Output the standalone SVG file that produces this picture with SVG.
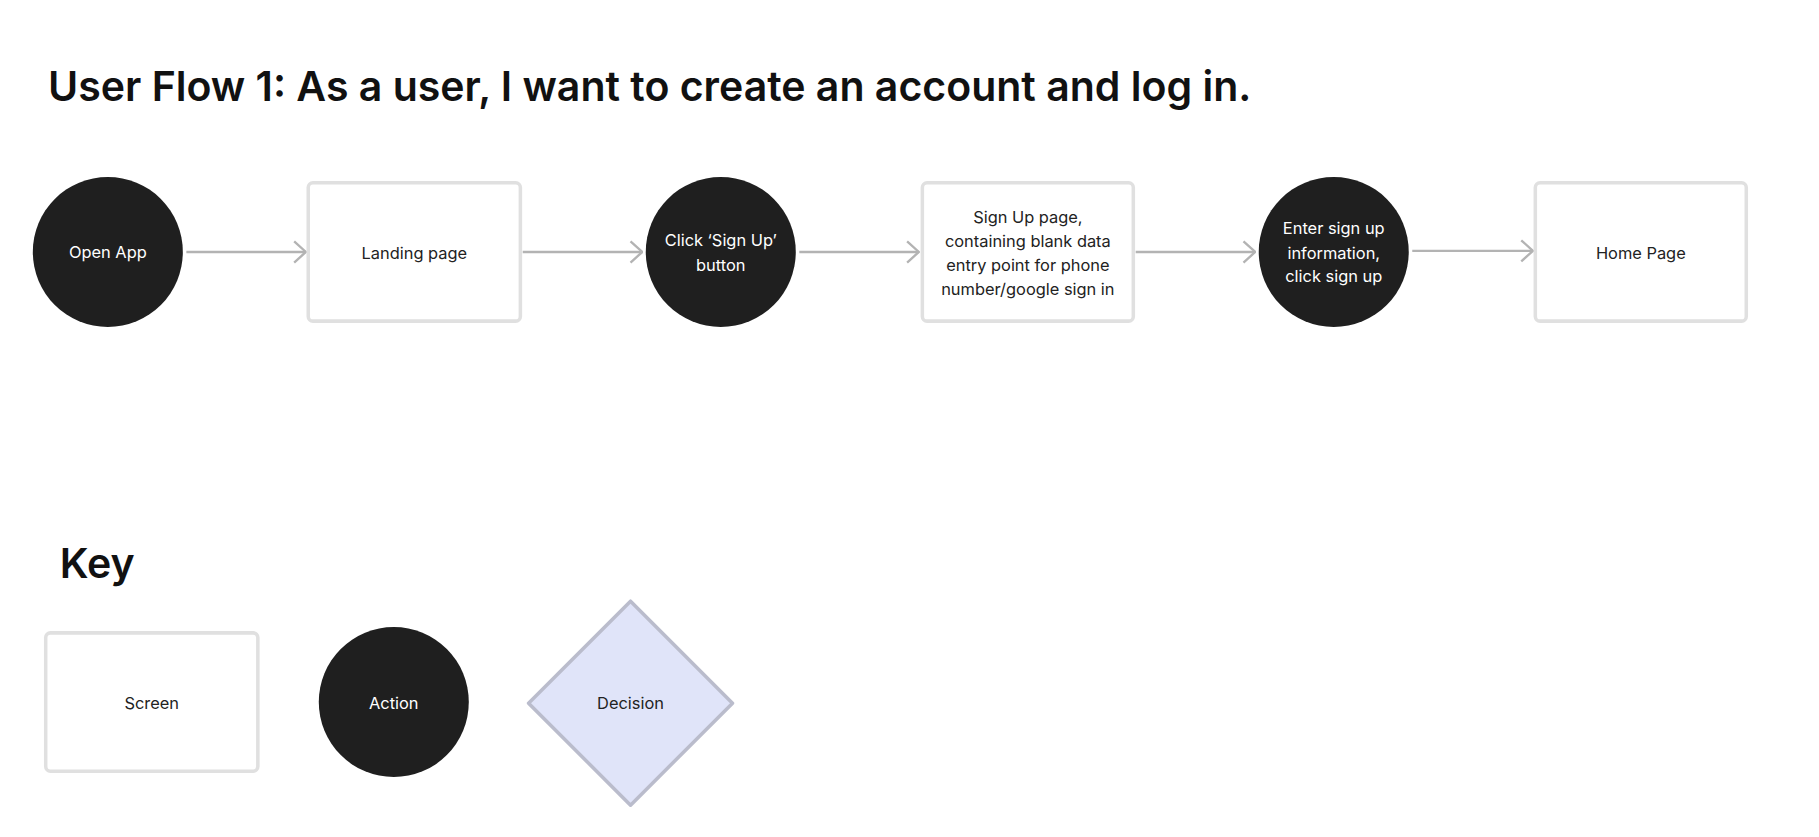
<svg xmlns="http://www.w3.org/2000/svg" width="1819" height="837" viewBox="0 0 1819 837">
<defs>
<style>
text{font-family:Inter,"Noto Sans",sans-serif;}
.title{font-size:35px;font-weight:600;fill:#111}
.act{fill:#1f1f1f}
.scr{fill:#fff;stroke:#e0e0e0;stroke-width:3}
.lw{fill:#fff;font-size:14px;text-anchor:middle}
.ld{fill:#222;font-size:14px;text-anchor:middle}
.con{stroke:#b3b3b3;stroke-width:2;fill:none}
</style>
<marker id="ah" viewBox="0 0 12 20" refX="11" refY="10" markerWidth="12" markerHeight="20" markerUnits="userSpaceOnUse" orient="auto"><path d="M1 1 L11 10 L1 19" fill="none" stroke="#b3b3b3" stroke-width="2"/></marker>
</defs>
<rect width="1819" height="837" fill="#fff"/>
<g transform="scale(1.172)">
<text class="title" x="41" y="86">User Flow 1: As a user, I want to create an account and log in.</text>
<g id="connectors">
<line class="con" x1="159" y1="215" x2="261" y2="215" marker-end="url(#ah)"/>
<line class="con" x1="446" y1="215" x2="548" y2="215" marker-end="url(#ah)"/>
<line class="con" x1="682" y1="215" x2="784" y2="215" marker-end="url(#ah)"/>
<line class="con" x1="969" y1="215" x2="1071" y2="215" marker-end="url(#ah)"/>
<line class="con" x1="1205" y1="214" x2="1308" y2="214" marker-end="url(#ah)"/>
</g>
<g id="open-app"><circle class="act" cx="92" cy="215" r="64"/><text class="lw" x="92" y="220">Open App</text></g>
<g id="landing"><rect class="scr" x="263" y="156" width="181" height="118" rx="4"/><text class="ld" x="353.5" y="221">Landing page</text></g>
<g id="click-signup"><circle class="act" cx="615" cy="215" r="64"/><text class="lw" x="615" y="210">Click ‘Sign Up’</text><text class="lw" x="615" y="231">button</text></g>
<g id="signup-page"><rect class="scr" x="787" y="156" width="180" height="118" rx="4"/>
<text class="ld" x="877" y="190">Sign Up page,</text><text class="ld" x="877" y="211">containing blank data</text><text class="ld" x="877" y="231">entry point for phone</text><text class="ld" x="877" y="252">number/google sign in</text></g>
<g id="enter-info"><circle class="act" cx="1138" cy="215" r="64"/><text class="lw" x="1138" y="200">Enter sign up</text><text class="lw" x="1138" y="221">information,</text><text class="lw" x="1138" y="241">click sign up</text></g>
<g id="home"><rect class="scr" x="1310" y="156" width="180" height="118" rx="4"/><text class="ld" x="1400" y="221">Home Page</text></g>
<text class="title" x="51" y="493">Key</text>
<g id="key-screen"><rect class="scr" x="39" y="540" width="181" height="118" rx="4"/><text class="ld" x="129.5" y="605">Screen</text></g>
<g id="key-action"><circle class="act" cx="336" cy="599" r="64"/><text class="lw" x="336" y="605">Action</text></g>
<g id="key-decision"><path d="M538 513 L625 600 L538 687 L451 600 Z" fill="#e0e4f9" stroke="#babccc" stroke-width="3" stroke-linejoin="round"/><text class="ld" x="538" y="605">Decision</text></g>
</g>
</svg>
